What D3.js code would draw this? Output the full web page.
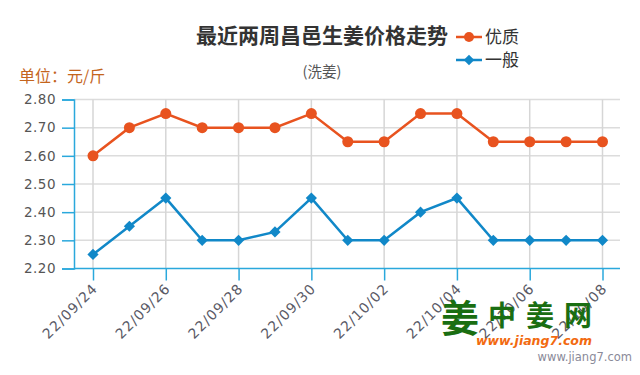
<!DOCTYPE html>
<html><head><meta charset="utf-8">
<script src="https://cdn.jsdelivr.net/npm/d3@7"></script>
<style>body{margin:0;background:#fff}svg{display:block}</style>
</head><body>
<svg id="c" width="640" height="375"></svg>
<script>
const dates = ["2022-09-24","2022-09-25","2022-09-26","2022-09-27","2022-09-28","2022-09-29","2022-09-30","2022-10-01","2022-10-02","2022-10-03","2022-10-04","2022-10-05","2022-10-06","2022-10-07","2022-10-08"];
const premium = [2.60,2.70,2.75,2.70,2.70,2.70,2.75,2.65,2.65,2.75,2.75,2.65,2.65,2.65,2.65];
const normal = [2.25,2.35,2.45,2.30,2.30,2.33,2.45,2.30,2.30,2.40,2.45,2.30,2.30,2.30,2.30];
const yTicks = [2.20,2.30,2.40,2.50,2.60,2.70,2.80];
const seriesNames = ["优质","一般"];

(function(){
const svg = d3.select("#c");
const parse = d3.timeParse("%Y-%m-%d");
const dd = dates.map(parse);
const pl = 74, pr = 620, pt = 99.5, pb = 268.5;
const x = d3.scaleTime().domain([dd[0], dd[dd.length-1]]).range([93, 602.5]);
const y = d3.scaleLinear().domain([2.2, 2.8]).range([pb, pt]);
const xTickVals = dd.filter((d,i)=>i%2===0);
const axisColor = "#2aa8dc";
const cjk = "'Noto Sans CJK SC','Noto Sans',sans-serif";

// gridlines
svg.append("g").selectAll("line").data(yTicks.slice(1)).join("line")
  .attr("x1", pl).attr("x2", pr).attr("y1", d=>y(d)).attr("y2", d=>y(d))
  .attr("stroke", "#dcdcdc").attr("stroke-width", 1.5);
svg.append("g").selectAll("line").data(xTickVals).join("line")
  .attr("x1", d=>x(d)).attr("x2", d=>x(d)).attr("y1", pt).attr("y2", pb)
  .attr("stroke", "#d6d6d6").attr("stroke-width", 1.5);

// y axis
const yAx = svg.append("g").attr("transform", `translate(${pl},0)`)
  .call(d3.axisLeft(y).tickValues(yTicks).tickFormat(d3.format(".2f")).tickSize(12).tickPadding(6));
yAx.select(".domain").attr("stroke", axisColor).attr("stroke-width", 1.5);
yAx.selectAll(".tick line").attr("stroke", axisColor).attr("stroke-width", 1.5);
yAx.selectAll("text").attr("fill", "#555").attr("font-size", 13.5).attr("letter-spacing", 0.5)
  .attr("font-family", "'DejaVu Sans',sans-serif");

// x axis
const xAx = svg.append("g").attr("transform", `translate(0,${pb})`)
  .call(d3.axisBottom(x).tickValues(xTickVals).tickFormat(d3.timeFormat("%y/%m/%d")).tickSize(12).tickSizeOuter(0));
xAx.select(".domain").attr("d", `M${pl},0H${pr}`).attr("stroke", axisColor).attr("stroke-width", 1.5);
xAx.selectAll(".tick line").attr("stroke", axisColor).attr("stroke-width", 1.5);
xAx.selectAll("text").attr("fill", "#5a5a66").attr("font-size", 14).attr("letter-spacing", 1)
  .attr("font-family", "'DejaVu Sans',sans-serif")
  .attr("text-anchor", "end").attr("dy", null).attr("y", 0)
  .attr("transform", "translate(5,21) rotate(-45)");

// lines
const colors = ["#e8531f", "#1188c8"];
const data = [premium, normal];
const line = d3.line().x((d,i)=>x(dd[i])).y(d=>y(d));
data.forEach((s, k) => {
  svg.append("path").datum(s).attr("d", line).attr("fill", "none")
    .attr("stroke", colors[k]).attr("stroke-width", 2.5);
});
svg.append("g").selectAll("circle").data(premium).join("circle")
  .attr("cx", (d,i)=>x(dd[i])).attr("cy", d=>y(d)).attr("r", 5.5).attr("fill", colors[0]);
const diamond = d3.symbol().type(d3.symbolDiamond2).size(80);
svg.append("g").selectAll("path").data(normal).join("path")
  .attr("d", diamond).attr("transform", (d,i)=>`translate(${x(dd[i])},${y(d)})`).attr("fill", colors[1]);

// titles
svg.append("text").attr("x", 322).attr("y", 43).attr("text-anchor", "middle")
  .attr("font-family", cjk).attr("font-weight", "bold").attr("font-size", 21).attr("fill", "#333")
  .text("最近两周昌邑生姜价格走势");
svg.append("text").attr("x", 322).attr("y", 77).attr("text-anchor", "middle")
  .attr("font-family", cjk).attr("font-size", 14.5).attr("fill", "#555").text("(洗姜)");
svg.append("text").attr("x", 19).attr("y", 82)
  .attr("font-family", cjk).attr("font-size", 16).attr("fill", "#c4651d").text("单位：元/斤");

// legend
const lg = svg.append("g");
[37, 60].forEach((ly, k) => {
  lg.append("line").attr("x1", 456).attr("x2", 482).attr("y1", ly).attr("y2", ly)
    .attr("stroke", colors[k]).attr("stroke-width", 2.5);
  if (k === 0) lg.append("circle").attr("cx", 469).attr("cy", ly).attr("r", 5).attr("fill", colors[0]);
  else lg.append("path").attr("d", d3.symbol().type(d3.symbolDiamond2).size(70)).attr("transform", `translate(469,${ly})`).attr("fill", colors[1]);
  lg.append("text").attr("x", 485).attr("y", ly + 6).attr("font-family", cjk).attr("font-size", 17)
    .attr("fill", "#333").text(seriesNames[k]);
});

// watermark
const wm = svg.append("g");
wm.append("text").attr("x", 441).attr("y", 332).attr("font-family", cjk).attr("font-weight", "bold")
  .attr("font-size", 38).attr("fill", "#1a6e12").text("姜");
wm.append("text").attr("x", 488).attr("y", 326).attr("font-family", cjk).attr("font-weight", "bold")
  .attr("font-size", 28).attr("fill", "#1a6e12").attr("letter-spacing", 10).text("中姜网");
wm.append("text").attr("x", 476).attr("y", 345).attr("font-family", "'DejaVu Sans',sans-serif").attr("font-weight", "bold")
  .attr("font-style", "italic").attr("font-size", 12.5).attr("fill", "#f26a10").text("www.jiang7.com");
wm.append("text").attr("x", 632).attr("y", 361).attr("text-anchor", "end").attr("font-family", "'DejaVu Sans',sans-serif")
  .attr("font-size", 11.5).attr("fill", "#8a8a99").text("www.jiang7.com");
})();
</script>
</body></html>
